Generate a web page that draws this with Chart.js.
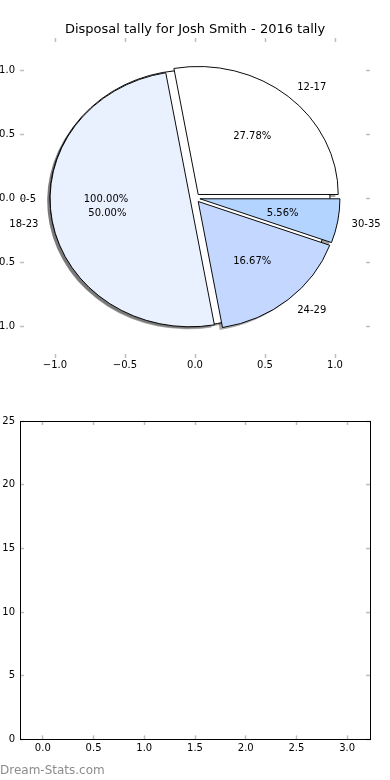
<!DOCTYPE html>
<html><head><meta charset="utf-8">
<script src="https://cdn.jsdelivr.net/npm/chart.js@4/dist/chart.umd.min.js"></script>
<style>
html,body{margin:0;padding:0;background:#fff;width:390px;height:780px;overflow:hidden}
#top{position:absolute;left:0;top:0;width:390px;height:396px}
#top canvas{position:absolute;left:0;top:0}
#bottom{position:absolute;left:0;top:396px}
</style></head><body>
<div id="top">
<canvas id="axesTop" width="390" height="396" style="z-index:1"></canvas>
<canvas id="pieBase" width="390" height="396" style="z-index:2"></canvas>
<canvas id="pieWedges" width="390" height="396" style="z-index:3"></canvas>
</div>
<canvas id="bottom" width="390" height="384"></canvas>
<script>
// ---- data ----
const chartTitle = 'Disposal tally for Josh Smith - 2016 tally';
const baseLabels = ['0-5'];
const baseValues = [1];
const wedgeLabels = ['12-17', '18-23', '24-29', '30-35'];
const wedgeValues = [5, 9, 3, 1];
const pieTicks = [-1.0, -0.5, 0.0, 0.5, 1.0];
const barPositions = [0, 1, 2, 3];
const barValues = [0, 0, 0, 0];
const barXTicks = [0, 0.5, 1, 1.5, 2, 2.5, 3];
const barYTicks = [0, 5, 10, 15, 20, 25];
const watermark = 'Dream-Stats.com';

// ---- style ----
const baseColors = ['#ffffff'];
const wedgeColors = ['#ffffff', '#eaf1fe', '#c4d8ff', '#b3d4ff'];
const PIE_R = 140;
const SY = 128 / 140;
const EXPLODE = 5;
const SHADOW_DX = -2.8, SHADOW_DY = 2.8;
const SHADOW_COLOR = 'rgba(77,77,77,0.5)';
const TICK_COLOR = '#bdbdbd';

Chart.defaults.font.family = '"DejaVu Sans", sans-serif';
Chart.defaults.font.size = 10;
Chart.defaults.color = '#000';

let wedgeChart = null, baseChart = null;

function proxyArc(arc, overrides) {
  const p = Object.create(arc);
  p.options = Object.assign({}, arc.options, overrides);
  if (arc.circumference >= Math.PI * 2 - 1e-9) {
    p.startAngle = arc.startAngle + Math.PI;
    p.endAngle = arc.endAngle + Math.PI;
  }
  return p;
}
function drawArcs(ctx, c, shadow) {
  const meta = c.getDatasetMeta(0);
  meta.data.forEach(arc => {
    if (!arc.circumference) return;
    const mid = (arc.startAngle + arc.endAngle) / 2;
    ctx.save();
    ctx.translate(Math.cos(mid) * EXPLODE, Math.sin(mid) * EXPLODE);
    if (shadow) {
      ctx.translate(SHADOW_DX, SHADOW_DY);
      proxyArc(arc, {backgroundColor: SHADOW_COLOR, borderWidth: 0, offset: 0}).draw(ctx);
    } else {
      proxyArc(arc, {offset: 0}).draw(ctx);
    }
    ctx.restore();
  });
}
function drawLabels(ctx, c) {
  const meta = c.getDatasetMeta(0);
  const labels = c.data.labels, vals = c.data.datasets[0].data;
  const total = vals.reduce((a, b) => a + b, 0);
  ctx.save();
  ctx.font = '10px "DejaVu Sans"';
  ctx.fillStyle = '#000';
  ctx.textBaseline = 'middle';
  meta.data.forEach((arc, i) => {
    const mid = (arc.startAngle + arc.endAngle) / 2;
    const cs = Math.cos(mid), sn = Math.sin(mid);
    const R = arc.outerRadius;
    const ex = arc.x + cs * EXPLODE, ey = arc.y + sn * EXPLODE * SY;
    const lx = ex + 1.1 * R * cs, ly = ey + 1.1 * R * sn * SY;
    ctx.textAlign = (lx - arc.x) > 0 ? 'left' : 'right';
    ctx.fillText(labels[i], lx, ly + 1);
    ctx.textAlign = 'center';
    ctx.fillText((vals[i] / total * 100).toFixed(2) + '%', ex + 0.6 * R * cs, ey + 0.6 * R * sn * SY + 1);
  });
  ctx.restore();
}
const piePlugin = {
  id: 'ellipsePie',
  beforeDatasetsDraw(chart, args, opts) {
    const ctx = chart.ctx;
    const a = chart.chartArea;
    const cx = (a.left + a.right) / 2, cy = (a.top + a.bottom) / 2;
    ctx.save();
    ctx.translate(cx, cy); ctx.scale(1, SY); ctx.translate(-cx, -cy);
    if (opts.role === 'base') {
      drawArcs(ctx, chart, true);
      if (wedgeChart) drawArcs(ctx, wedgeChart, true);
    }
    drawArcs(ctx, chart, false);
    ctx.restore();
    return false;
  },
  afterDraw(chart, args, opts) {
    if (opts.role !== 'wedges') return;
    if (baseChart) drawLabels(chart.ctx, baseChart);
    drawLabels(chart.ctx, chart);
  }
};
function pieConfig(labels, values, colors, role) {
  return {
    type: 'pie',
    data: {labels, datasets: [{data: values, backgroundColor: colors, borderColor: '#000', borderWidth: 1}]},
    options: {
      responsive: false, animation: false, events: [], radius: PIE_R, rotation: 90,
      layout: {padding: 0},
      plugins: {legend: {display: false}, tooltip: {enabled: false}, ellipsePie: {role}}
    },
    plugins: [piePlugin]
  };
}

const fmt1 = v => (v < 0 ? '\u2212' : '') + Math.abs(v).toFixed(1);
const fmt0 = v => String(v);
function axis(pos, min, max, ticks, o) {
  const vertical = (pos === 'left' || pos === 'right');
  return {
    type: 'linear', position: pos, min, max, offset: false,
    afterBuildTicks: s => { s.ticks = ticks.map(v => ({value: v})); },
    ticks: {display: o.labels, callback: o.fmt, padding: o.pad, color: '#000', font: {size: 10}, maxRotation: 0, autoSkip: false},
    grid: {offset: false, drawOnChartArea: false, drawTicks: true, tickLength: -4, tickColor: TICK_COLOR, tickWidth: 1.5},
    border: {display: o.border, color: '#000', width: 1},
    afterFit: s => { if (vertical) s.width = o.size; else s.height = o.size; }
  };
}

// ---- top axes (pie frame) ----
new Chart(document.getElementById('axesTop'), {
  type: 'scatter',
  data: {datasets: []},
  options: {
    responsive: false, animation: false, events: [], layout: {padding: 0},
    plugins: {
      legend: {display: false}, tooltip: {enabled: false},
      title: {display: true, text: chartTitle, color: '#000', font: {size: 13, weight: 'normal'}, padding: {top: 22, bottom: 0.4}}
    },
    scales: {
      x: axis('bottom', -1.25, 1.25, pieTicks, {labels: true, fmt: fmt1, pad: 5, border: false, size: 38}),
      x2: axis('top', -1.25, 1.25, pieTicks, {labels: false, fmt: fmt1, pad: 0, border: false, size: 0}),
      y: axis('left', -1.25, 1.25, pieTicks, {labels: true, fmt: fmt1, pad: 9, border: false, size: 20}),
      y2: axis('right', -1.25, 1.25, pieTicks, {labels: false, fmt: fmt1, pad: 0, border: false, size: 20})
    }
  }
});

// ---- pies ----
wedgeChart = new Chart(document.getElementById('pieWedges'),
  pieConfig(wedgeLabels.slice().reverse(), wedgeValues.slice().reverse(), wedgeColors.slice().reverse(), 'wedges'));
baseChart = new Chart(document.getElementById('pieBase'),
  pieConfig(baseLabels, baseValues, baseColors, 'base'));
wedgeChart.draw();

// ---- bottom (empty bar chart) ----
new Chart(document.getElementById('bottom'), {
  type: 'bar',
  data: {datasets: [{data: barPositions.map((x, i) => ({x, y: barValues[i]})), backgroundColor: '#4472c4', borderWidth: 0}]},
  options: {
    responsive: false, animation: false, events: [], layout: {padding: 0},
    plugins: {
      legend: {display: false}, tooltip: {enabled: false},
      subtitle: {display: true, text: watermark, position: 'bottom', align: 'start', color: '#8c8c8c', font: {size: 12, weight: 'normal'}, padding: {top: 0, bottom: 2.4}}
    },
    scales: {
      x: axis('bottom', -0.225, 3.225, barXTicks, {labels: true, fmt: fmt1, pad: 7, border: true, size: 23.8}),
      x2: axis('top', -0.225, 3.225, barXTicks, {labels: false, fmt: fmt1, pad: 0, border: true, size: 25}),
      y: axis('left', 0, 25, barYTicks, {labels: true, fmt: fmt0, pad: 9, border: true, size: 20}),
      y2: axis('right', 0, 25, barYTicks, {labels: false, fmt: fmt0, pad: 0, border: true, size: 20})
    }
  }
});
</script>
</body></html>
